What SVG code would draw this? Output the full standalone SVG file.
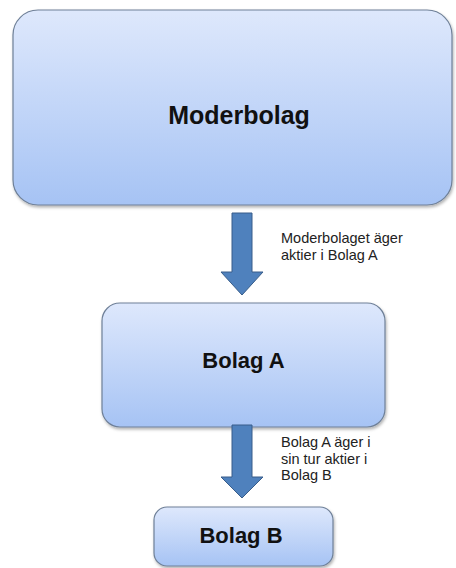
<svg xmlns="http://www.w3.org/2000/svg" width="456" height="568" viewBox="0 0 456 568">
<defs>
<linearGradient id="g" x1="0" y1="0" x2="0" y2="1">
<stop offset="0" stop-color="#dee8fc"/>
<stop offset="1" stop-color="#a6c3f4"/>
</linearGradient>
<filter id="sh" x="-5%" y="-5%" width="110%" height="115%">
<feDropShadow dx="1" dy="2" stdDeviation="1.5" flood-color="#000" flood-opacity="0.3"/>
</filter>
<style>
.box{fill:url(#g);stroke:#6f8098;stroke-width:1.2;filter:url(#sh)}
.big{font-family:"Liberation Sans",Arial,sans-serif;font-weight:bold;fill:#111;text-anchor:middle}
.lbl{font-family:"Liberation Sans",Arial,sans-serif;font-size:14.5px;fill:#222}
.arr{fill:#4f81bd;stroke:#385d8a;stroke-width:1}
</style>
</defs>
<rect width="456" height="568" fill="#fff"/>
<g id="moderbolag">
<rect class="box" x="13" y="10" width="439" height="195" rx="25"/>
<text class="big" x="239" y="124" font-size="25">Moderbolag</text>
</g>
<g id="bolagA">
<rect class="box" x="102" y="303" width="283" height="124" rx="18"/>
<text class="big" x="243.5" y="368" font-size="22">Bolag A</text>
</g>
<g id="bolagB">
<rect class="box" x="154" y="507" width="179" height="59" rx="13"/>
<text class="big" x="241" y="543" font-size="22">Bolag B</text>
</g>
<g id="connectors">
<polygon class="arr" points="232,213 252,213 252,272 263,272 242,295 221,272 232,272"/>
<polygon class="arr" points="232,425 252,425 252,477 263,477 242,498 221,477 232,477"/>
<text class="lbl" x="281" y="243">Moderbolaget äger</text>
<text class="lbl" x="281" y="260">aktier i Bolag A</text>
<text class="lbl" x="281" y="447">Bolag A äger i</text>
<text class="lbl" x="281" y="463.5">sin tur aktier i</text>
<text class="lbl" x="281" y="480">Bolag B</text>
</g>
</svg>
